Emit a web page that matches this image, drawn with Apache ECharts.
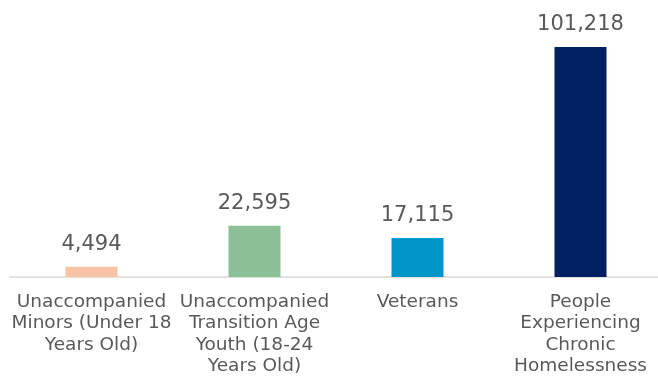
<!DOCTYPE html>
<html>
<head>
<meta charset="utf-8">
<script src="https://cdn.jsdelivr.net/npm/echarts@6/dist/echarts.min.js"></script>
<style>
  html, body { margin: 0; padding: 0; background: #fff; }
  #chart { width: 658px; height: 377px; }
</style>
</head>
<body>
<div id="chart"></div>
<script>
const categories = [
    'Unaccompanied\nMinors (Under 18\nYears Old)',
    'Unaccompanied\nTransition Age\nYouth (18-24\nYears Old)',
    'Veterans',
    'People\nExperiencing\nChronic\nHomelessness'
];
const values = [4494, 22595, 17115, 101218];
const colors = ['#F9C4A6', '#8BBF95', '#0095C9', '#012060'];

const chart = echarts.init(document.getElementById('chart'));

const option = {
    backgroundColor: '#fff',
    animation: false,
    grid: {
        left: 10,
        width: 652,
        top: 27,
        bottom: 100,
        outerBoundsMode: 'none',
        containLabel: false
    },
    xAxis: {
        type: 'category',
        data: categories,
        axisTick: { show: false },
        axisLine: { lineStyle: { color: '#D9D9D9', width: 1.5 } },
        axisLabel: {
            interval: 0,
            margin: 14,
            color: '#595959',
            fontFamily: 'DejaVu Sans',
            fontSize: 18.5,
            lineHeight: 21.5
        }
    },
    yAxis: {
        type: 'value',
        min: 0,
        max: 110000,
        show: false,
        splitLine: { show: false }
    },
    series: [{
        type: 'bar',
        barWidth: 52,
        data: values.map((v, i) => ({ value: v, itemStyle: { color: colors[i] } })),
        label: {
            show: true,
            position: 'top',
            distance: 12,
            color: '#595959',
            fontFamily: 'DejaVu Sans',
            fontSize: 21,
            formatter: p => p.value.toLocaleString('en-US')
        }
    }]
};

chart.setOption(option);

window.addEventListener('resize', () => {
    chart.resize();
});
</script>
</body>
</html>
